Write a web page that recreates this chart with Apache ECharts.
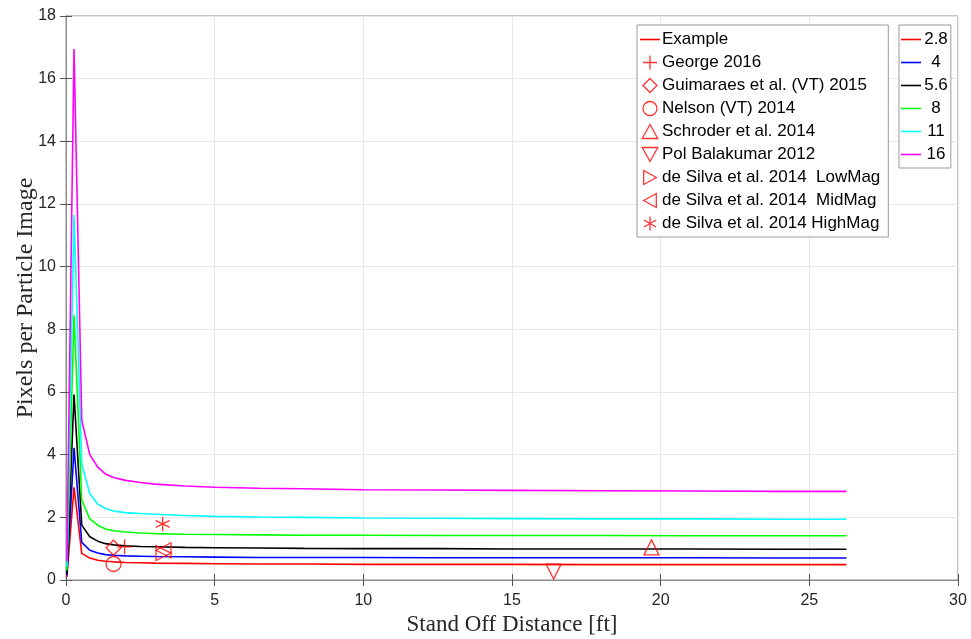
<!DOCTYPE html>
<html>
<head>
<meta charset="utf-8">
<script src="https://cdn.jsdelivr.net/npm/echarts@6/dist/echarts.min.js"></script>
<style>
html,body{margin:0;padding:0;background:#fff;}
#chart{width:971px;height:639px;}
</style>
</head>
<body>
<div id="chart"></div>
<script>
// ---- data ----
const xDist = [0.03, 0.27, 0.53, 0.8, 1.07, 1.33, 1.6, 2.0, 2.5, 3.0, 4.0, 5.0, 6.5, 8.0, 10.0, 12.5, 15.0, 18.0, 21.0, 24.0, 26.25];
const fNumbers = ['2.8', '4', '5.6', '8', '11', '16'];
const vF28 = [0.10, 2.96, 0.85, 0.70, 0.63, 0.60, 0.58, 0.56, 0.55, 0.54, 0.53, 0.52, 0.51, 0.51, 0.50, 0.50, 0.50, 0.49, 0.49, 0.49, 0.49];
const vF4  = [0.15, 4.22, 1.20, 0.95, 0.86, 0.81, 0.79, 0.77, 0.76, 0.75, 0.74, 0.73, 0.72, 0.72, 0.72, 0.71, 0.71, 0.71, 0.71, 0.70, 0.70];
const vF56 = [0.20, 5.92, 1.75, 1.38, 1.24, 1.16, 1.12, 1.09, 1.07, 1.06, 1.04, 1.03, 1.02, 1.01, 1.00, 1.00, 0.99, 0.99, 0.99, 0.98, 0.98];
const vF8  = [0.30, 8.45, 2.55, 1.95, 1.75, 1.63, 1.57, 1.53, 1.50, 1.48, 1.46, 1.45, 1.44, 1.43, 1.43, 1.42, 1.42, 1.42, 1.41, 1.41, 1.41];
const vF11 = [0.42, 11.65, 3.70, 2.75, 2.42, 2.28, 2.20, 2.15, 2.12, 2.10, 2.06, 2.03, 2.01, 2.00, 1.98, 1.97, 1.96, 1.95, 1.95, 1.94, 1.94];
const vF16 = [0.60, 16.95, 5.10, 4.00, 3.60, 3.38, 3.27, 3.18, 3.11, 3.06, 3.00, 2.96, 2.93, 2.91, 2.88, 2.87, 2.86, 2.85, 2.84, 2.83, 2.83];
const curveValues = [vF28, vF4, vF56, vF8, vF11, vF16];
const curveColors = ['#ff0000', '#0000ff', '#000000', '#00ff00', '#00ffff', '#ff00ff'];

const markerNames = ['George 2016', 'Guimaraes et al. (VT) 2015', 'Nelson (VT) 2014', 'Schroder et al. 2014',
  'Pol Balakumar 2012', 'de Silva et al. 2014  LowMag', 'de Silva et al. 2014  MidMag', 'de Silva et al. 2014 HighMag'];
const markerX = [1.97, 1.60, 1.60, 19.69, 16.40, 3.28, 3.28, 3.25];
const markerY = [1.06, 1.03, 0.51, 1.04, 0.27, 0.86, 0.95, 1.79];
const xTicks = [0, 5, 10, 15, 20, 25, 30];
const yTicks = [0, 2, 4, 6, 8, 10, 12, 14, 16, 18];

// ---- styling ----
const markerSymbols = [
  'path://M5,0 L5,10 M0,5 L10,5',
  'path://M5,0 L10,5 L5,10 L0,5 Z',
  'circle',
  'path://M5,0 L10,9 L0,9 Z',
  'path://M0,0 L10,0 L5,9 Z',
  'path://M0,0 L9,5 L0,10 Z',
  'path://M9,0 L0,5 L9,10 Z',
  'path://M5,0 L5,10 M0.67,2.5 L9.33,7.5 M0.67,7.5 L9.33,2.5'
];
const markerSizes = [15, 15, 15, 15, 15, 15, 15, 14];
const lineIcon = 'path://M0,0 L40,0 L40,3.2 L0,3.2 Z';

const tickFont = 'Liberation Sans, Arial, Helvetica, sans-serif';
const serif = 'Liberation Serif, Times New Roman, serif';

const series = [];
series.push({
  name: 'Example', type: 'line', data: [], symbol: 'none',
  lineStyle: {color: '#ff0000', width: 1.5}, itemStyle: {color: '#ff0000'}
});
fNumbers.forEach((f, i) => {
  series.push({
    name: f, type: 'line', symbol: 'none', z: 2 + i,
    data: xDist.map((x, k) => [x, curveValues[i][k]]),
    lineStyle: {color: curveColors[i], width: 1.6},
    itemStyle: {color: curveColors[i]}
  });
});
markerNames.forEach((n, i) => {
  series.push({
    name: n, type: 'scatter', z: 20,
    symbol: markerSymbols[i], symbolSize: markerSizes[i],
    data: [[markerX[i], markerY[i]]],
    itemStyle: {color: 'rgba(0,0,0,0)', borderColor: '#ff0000', borderWidth: 1.3}
  });
});

const legendMarkerStyle = {color: 'rgba(0,0,0,0)', borderColor: '#ff0000', borderWidth: 1.3};

const option = {
  animation: false,
  backgroundColor: '#ffffff',
  grid: {left: 66, right: 13, top: 16, bottom: 59, show: true, borderColor: '#8c8c8c', borderWidth: 1,
    containLabel: false, outerBoundsMode: 'none'},
  xAxis: [{
    type: 'value', min: 0, max: 30, interval: 5,
    name: 'Stand Off Distance [ft]', nameLocation: 'middle', nameGap: 33, nameMoveOverlap: false,
    nameTextStyle: {fontFamily: serif, fontSize: 23, color: '#262626'},
    axisLine: {show: true, lineStyle: {color: '#7a7a7a'}},
    axisTick: {show: true, inside: true, length: 6, lineStyle: {color: '#555'}},
    axisLabel: {fontFamily: tickFont, fontSize: 16, color: '#262626', margin: 13,
      formatter: v => xTicks.includes(v) ? String(v) : ''},
    splitLine: {show: true, lineStyle: {color: '#e8e8e8'}}
  }, {
    type: 'value', min: 0, max: 30, interval: 5, position: 'top',
    axisLine: {show: true, lineStyle: {color: '#8c8c8c'}},
    axisTick: {show: true, inside: true, length: 6, lineStyle: {color: '#555'}},
    axisLabel: {show: false}, splitLine: {show: false}
  }],
  yAxis: [{
    type: 'value', min: 0, max: 18, interval: 2,
    name: 'Pixels per Particle Image', nameLocation: 'middle', nameGap: 28, nameRotate: 90, nameMoveOverlap: false,
    nameTextStyle: {fontFamily: serif, fontSize: 24, color: '#262626'},
    axisLine: {show: true, lineStyle: {color: '#7a7a7a'}},
    axisTick: {show: true, inside: true, length: 6, lineStyle: {color: '#555'}},
    axisLabel: {fontFamily: tickFont, fontSize: 16, color: '#262626', margin: 10,
      formatter: v => yTicks.includes(v) ? String(v) : ''},
    splitLine: {show: true, lineStyle: {color: '#e8e8e8'}}
  }, {
    type: 'value', min: 0, max: 18, interval: 2, position: 'right',
    axisLine: {show: true, lineStyle: {color: '#8c8c8c'}},
    axisTick: {show: true, inside: true, length: 6, lineStyle: {color: '#555'}},
    axisLabel: {show: false}, splitLine: {show: false}
  }],
  legend: [{
    orient: 'vertical', left: 637, top: 25,
    backgroundColor: '#ffffff', borderColor: '#9a9a9a', borderWidth: 1,
    padding: [6, 8, 5, 3], itemGap: 6, itemWidth: 20, itemHeight: 14,
    textStyle: {fontFamily: tickFont, fontSize: 17, color: '#000', padding: [0, 0, 0, -3]},
    data: [{name: 'Example', icon: lineIcon, itemStyle: {color: '#ff0000', borderWidth: 0}}].concat(markerNames.map((n, i) => ({
      name: n, icon: markerSymbols[i], itemStyle: legendMarkerStyle
    })))
  }, {
    orient: 'vertical', left: 899, top: 25,
    backgroundColor: '#ffffff', borderColor: '#9a9a9a', borderWidth: 1,
    padding: [6, 3, 5, 2], itemGap: 6, itemWidth: 20, itemHeight: 14,
    textStyle: {fontFamily: tickFont, fontSize: 17, color: '#000', padding: [0, 0, 0, -3],
      rich: {a: {fontFamily: tickFont, fontSize: 17, width: 26, align: 'center'}}},
    formatter: name => '{a|' + name + '}',
    data: fNumbers.map((n, i) => ({name: n, icon: lineIcon, itemStyle: {color: curveColors[i], borderWidth: 0}}))
  }],
  series: series
};

const chart = echarts.init(document.getElementById('chart'), null, {renderer: 'canvas'});
chart.setOption(option);
</script>
</body>
</html>
